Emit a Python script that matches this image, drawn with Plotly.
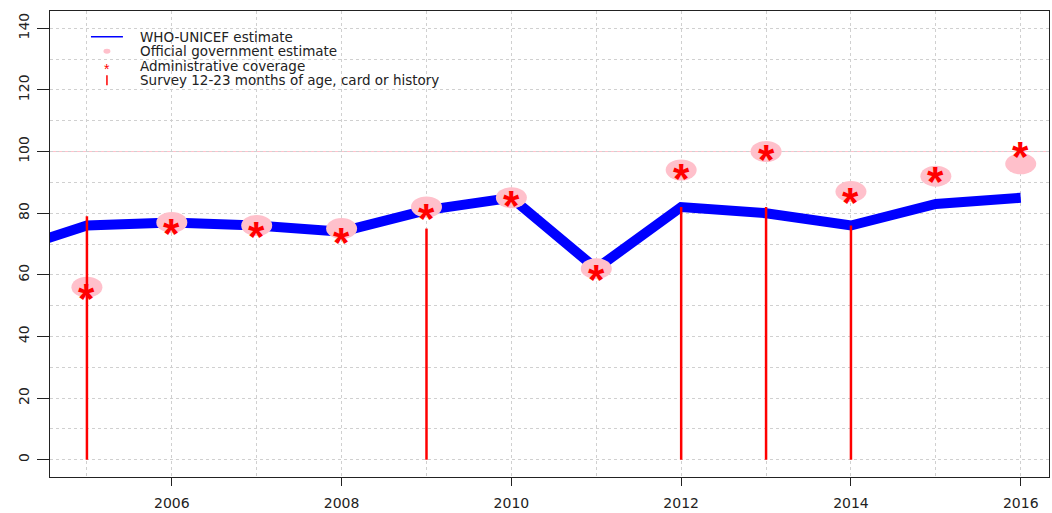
import plotly.graph_objects as go

# Coverage series (%)
years = [2004, 2005, 2006, 2007, 2008, 2009, 2010, 2011, 2012, 2013, 2014, 2015, 2016]
who_unicef = [67, 76, 77, 76, 74, 81, 85, 62, 82, 80, 76, 83, 85]

report_years = [2005, 2006, 2007, 2008, 2009, 2010, 2011, 2012, 2013, 2014, 2015, 2016]
official = [56, 77, 76, 75, 82, 85, 62, 94, 100, 87, 92, 96]
admin = [55, 76, 75, 73, 81, 85, 61, 94, 100, 86, 93, 101]

survey_years = [2005, 2009, 2012, 2013, 2014]
survey = [79, 75, 82, 82, 76]

legend_labels = [
    "WHO-UNICEF estimate",
    "Official government estimate",
    "Administrative coverage",
    "Survey 12-23 months of age, card or history",
]

FONT = "DejaVu Sans"
AXIS = "#222222"
GRID = "#d0d0d0"
PINK = "#FFC0CB"
RED = "#FF0000"
BLUE = "#0000FF"

W, H = 1052, 513
ML, MR, MT, MB = 50, 2, 11, 31
PW, PH = W - ML - MR, H - MT - MB


def px(x):
    return (x - ML) / PW


def py(y):
    return (H - MB - y) / PH


fig = go.Figure()

# WHO-UNICEF estimate line
fig.add_trace(go.Scatter(
    x=years, y=who_unicef, mode="lines",
    line=dict(color=BLUE, width=10),
    showlegend=False, hoverinfo="skip",
))

shapes = []
# reference line at 100%
shapes.append(dict(type="line", xref="paper", yref="y", x0=0, x1=1, y0=100, y1=100,
                   line=dict(color=PINK, width=1), layer="between"))

# official government estimates: pink ellipses
for yr, v in zip(report_years, official):
    shapes.append(dict(type="circle", xref="x", yref="y",
                       xsizemode="pixel", ysizemode="pixel",
                       xanchor=yr, yanchor=v,
                       x0=-15.5, x1=15.5, y0=-10.5, y1=10.5,
                       fillcolor=PINK, line=dict(width=0), layer="above"))

# survey results: vertical bars from zero
for yr, v in zip(survey_years, survey):
    shapes.append(dict(type="line", xref="x", yref="y",
                       x0=yr, x1=yr, y0=0, y1=v,
                       line=dict(color=RED, width=2.5), layer="above"))

annotations = []
# administrative coverage: red asterisks
STAR = 42
for yr, v in zip(report_years, admin):
    annotations.append(dict(x=yr, y=v, xref="x", yref="y", text="*",
                            xanchor="center", yanchor="middle",
                            showarrow=False, yshift=-0.19 * STAR,
                            font=dict(family="Liberation Sans", size=STAR,
                                      color=RED, weight="bold")))

# legend block
rows = [37, 51.7, 66.4, 81]
text_x = 138
sym_x = 107
for label, ry in zip(legend_labels, rows):
    annotations.append(dict(x=px(text_x), y=py(ry), xref="paper", yref="paper",
                            xanchor="left", yanchor="middle", text=label, showarrow=False,
                            font=dict(family=FONT, size=13.5, color=AXIS)))
shapes.append(dict(type="line", xref="paper", yref="paper",
                   x0=px(91), x1=px(123), y0=py(rows[0]), y1=py(rows[0]),
                   line=dict(color=BLUE, width=1.5)))
shapes.append(dict(type="circle", xref="paper", yref="paper",
                   x0=px(sym_x - 3.5), x1=px(sym_x + 3.5),
                   y0=py(rows[1] + 2.5), y1=py(rows[1] - 2.5),
                   fillcolor=PINK, line=dict(width=0)))
annotations.append(dict(x=px(sym_x), y=py(rows[2]), xref="paper", yref="paper",
                        xanchor="center", yanchor="middle",
                        text="*", showarrow=False, yshift=-2.7,
                        font=dict(family="Liberation Sans", size=14, color=RED)))
shapes.append(dict(type="line", xref="paper", yref="paper",
                   x0=px(sym_x), x1=px(sym_x), y0=py(rows[3] + 5), y1=py(rows[3] - 5),
                   line=dict(color=RED, width=1.5)))

fig.update_layout(
    width=W, height=H, autosize=False,
    margin=dict(l=ML, r=MR, t=MT, b=MB, pad=0),
    paper_bgcolor="white", plot_bgcolor="white",
    shapes=shapes, annotations=annotations,
    showlegend=False,
    font=dict(family=FONT, size=14, color=AXIS),
)

fig.update_xaxes(
    range=[2004.565, 2016.333],
    tickmode="linear", tick0=2006, dtick=2,
    ticks="outside", ticklen=8, tickwidth=1, tickcolor=AXIS,
    showline=True, mirror=True, linecolor=AXIS, linewidth=1,
    showgrid=True, gridcolor=GRID, griddash="dot", gridwidth=1,
    minor=dict(dtick=1, showgrid=True, gridcolor=GRID, griddash="dot", gridwidth=1, ticks=""),
    zeroline=False, ticklabelstandoff=5,
    tickfont=dict(family=FONT, size=14, color=AXIS),
)
fig.update_yaxes(
    range=[-5.6, 145.6],
    tickmode="linear", tick0=0, dtick=20, tickangle=-90,
    ticks="outside", ticklen=12, tickwidth=1, tickcolor=AXIS,
    showline=True, mirror=True, linecolor=AXIS, linewidth=1,
    showgrid=True, gridcolor=GRID, griddash="dot", gridwidth=1,
    minor=dict(dtick=10, showgrid=True, gridcolor=GRID, griddash="dot", gridwidth=1, ticks=""),
    zeroline=False, ticklabelstandoff=2,
    tickfont=dict(family=FONT, size=14, color=AXIS),
)

fig.write_html("out.html")
